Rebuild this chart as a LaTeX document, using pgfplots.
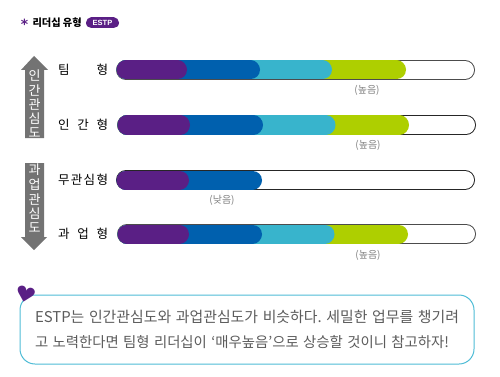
\documentclass[border=0pt]{standalone}
\usepackage{fontspec}
\usepackage{pgfplots}
\pgfplotsset{compat=1.18}
\setmainfont{Liberation Sans}
\newfontfamily\kr{Noto Sans CJK KR}
\newfontfamily\sym{DejaVu Sans}
\definecolor{cP}{HTML}{5A1F85}
\definecolor{cB}{HTML}{0060AE}
\definecolor{cC}{HTML}{38B4CC}
\definecolor{cG}{HTML}{AECF00}
\definecolor{cGray}{HTML}{737373}
\definecolor{cTxt}{HTML}{5C5C5C}
\definecolor{cBox}{HTML}{4FBCD6}
\tikzset{every node/.append style={inner sep=0pt,outer sep=0pt}}
\frenchspacing
\begin{document}
\begin{tikzpicture}
\path (0,0) rectangle (500pt,377pt);
\begin{axis}[
  at={(0,0)},anchor=south west,
  width=500pt,height=377pt,scale only axis,
  xmin=0,xmax=500,ymin=0,ymax=377,y dir=reverse,
  axis lines=none,clip=false,
]
% callout
\draw[cBox,line width=1pt,rounded corners=15pt,fill=white] (axis cs:20,295) rectangle (axis cs:474,364);
\node[cP,rotate=-14,xscale=1.15,font=\sym\fontsize{21}{21}\selectfont] at (axis cs:26,295) {♥};
\node[cTxt,anchor=west,font=\kr\fontsize{14.9}{16}\selectfont] at (axis cs:35,317) {\makebox[424pt][s]{ESTP는 인간관심도와 과업관심도가 비슷하다. 세밀한 업무를 챙기려}};
\node[cTxt,anchor=west,font=\kr\fontsize{14.4}{16}\selectfont] at (axis cs:35,342) {\makebox[414pt][s]{고 노력한다면 팀형 리더십이 ‘매우높음’으로 상승할 것이니 참고하자!}};
% title
\node[cP,font=\sym\bfseries\fontsize{14}{14}\selectfont] at (axis cs:24.5,24) {*};
\node[black,anchor=west,font=\kr\bfseries\fontsize{10.2}{12}\selectfont] at (axis cs:32.5,22.5) {리더십 유형};
\addplot[cP,line width=11pt,line cap=round,forget plot] coordinates {(91.5,23)(113.5,23)};
\node[white,font=\fontsize{7.5}{8}\selectfont\bfseries] at (axis cs:102.5,23) {ESTP};
% arrows
\addplot[fill=cGray,draw=none,forget plot] coordinates {(34,56)(48,70)(44,70)(44,138)(25,138)(25,70)(21,70)(34,56)};
\addplot[fill=cGray,draw=none,forget plot] coordinates {(25,163)(44,163)(44,237)(47,237)(34,250)(21,237)(25,237)(25,163)};
\foreach \c/\y in {인/76,간/90.5,관/105,심/119,도/133}{
  \edef\tmp{\noexpand\node[white,font=\noexpand\kr\noexpand\fontsize{13}{13}\noexpand\selectfont] at (axis cs:34.5,\y) {\c};}\tmp}
\foreach \c/\y in {과/170,업/185,관/199.5,심/213.5,도/227.5}{
  \edef\tmp{\noexpand\node[white,font=\noexpand\kr\noexpand\fontsize{13}{13}\noexpand\selectfont] at (axis cs:34.5,\y) {\c};}\tmp}
% row labels
\node[black,font=\kr\fontsize{12.5}{14}\selectfont] at (axis cs:83,69.5) {\makebox[50pt][s]{팀\hfil 형}};
\node[black,font=\kr\fontsize{12.5}{14}\selectfont] at (axis cs:83,124.5) {\makebox[50pt][s]{인\hfil 간\hfil 형}};
\node[black,font=\kr\fontsize{12.5}{14}\selectfont] at (axis cs:83,179.5) {\makebox[50pt][s]{무\hfil 관\hfil 심\hfil 형}};
\node[black,font=\kr\fontsize{12.5}{14}\selectfont] at (axis cs:83,234) {\makebox[50pt][s]{과\hfil 업\hfil 형}};
% bars: outline, then cumulative segments from right to left
\pgfplotsset{seg/.style={line width=#1,line cap=round,forget plot}}
% row 1
\addplot[seg=20pt,color=black!70] coordinates {(126,70)(465,70)};
\addplot[seg=18pt,color=white] coordinates {(126,70)(465,70)};
\addplot[seg=19pt,color=cG] coordinates {(126,70)(396.5,70)};
\addplot[seg=19pt,color=cC] coordinates {(126,70)(322.5,70)};
\addplot[seg=19pt,color=cB] coordinates {(126,70)(250.5,70)};
\addplot[seg=19pt,color=cP] coordinates {(126,70)(177.5,70)};
% row 2
\addplot[seg=20pt,color=black!85] coordinates {(127,125)(466,125)};
\addplot[seg=18pt,color=white] coordinates {(127,125)(466,125)};
\addplot[seg=19pt,color=cG] coordinates {(127,125)(399.5,125)};
\addplot[seg=19pt,color=cC] coordinates {(127,125)(326,125)};
\addplot[seg=19pt,color=cB] coordinates {(127,125)(253.5,125)};
\addplot[seg=19pt,color=cP] coordinates {(127,125)(180.5,125)};
% row 3
\addplot[seg=20pt,color=black!85] coordinates {(126,180)(465,180)};
\addplot[seg=18pt,color=white] coordinates {(126,180)(465,180)};
\addplot[seg=19pt,color=cB] coordinates {(126,180)(252.5,180)};
\addplot[seg=19pt,color=cP] coordinates {(126,180)(179.5,180)};
% row 4
\addplot[seg=20pt,color=black!70] coordinates {(127,234)(466,234)};
\addplot[seg=18pt,color=white] coordinates {(127,234)(466,234)};
\addplot[seg=19pt,color=cG] coordinates {(127,234)(398.5,234)};
\addplot[seg=19pt,color=cC] coordinates {(127,234)(325,234)};
\addplot[seg=19pt,color=cB] coordinates {(127,234)(252.5,234)};
\addplot[seg=19pt,color=cP] coordinates {(127,234)(179.5,234)};
% level notes
\node[black!50,font=\kr\fontsize{10}{11}\selectfont] at (axis cs:367,90) {(높음)};
\node[black!50,font=\kr\fontsize{10}{11}\selectfont] at (axis cs:368,145) {(높음)};
\node[black!50,font=\kr\fontsize{10}{11}\selectfont] at (axis cs:222,200) {(낮음)};
\node[black!50,font=\kr\fontsize{10}{11}\selectfont] at (axis cs:368,255) {(높음)};
\end{axis}
\end{tikzpicture}
\end{document}
